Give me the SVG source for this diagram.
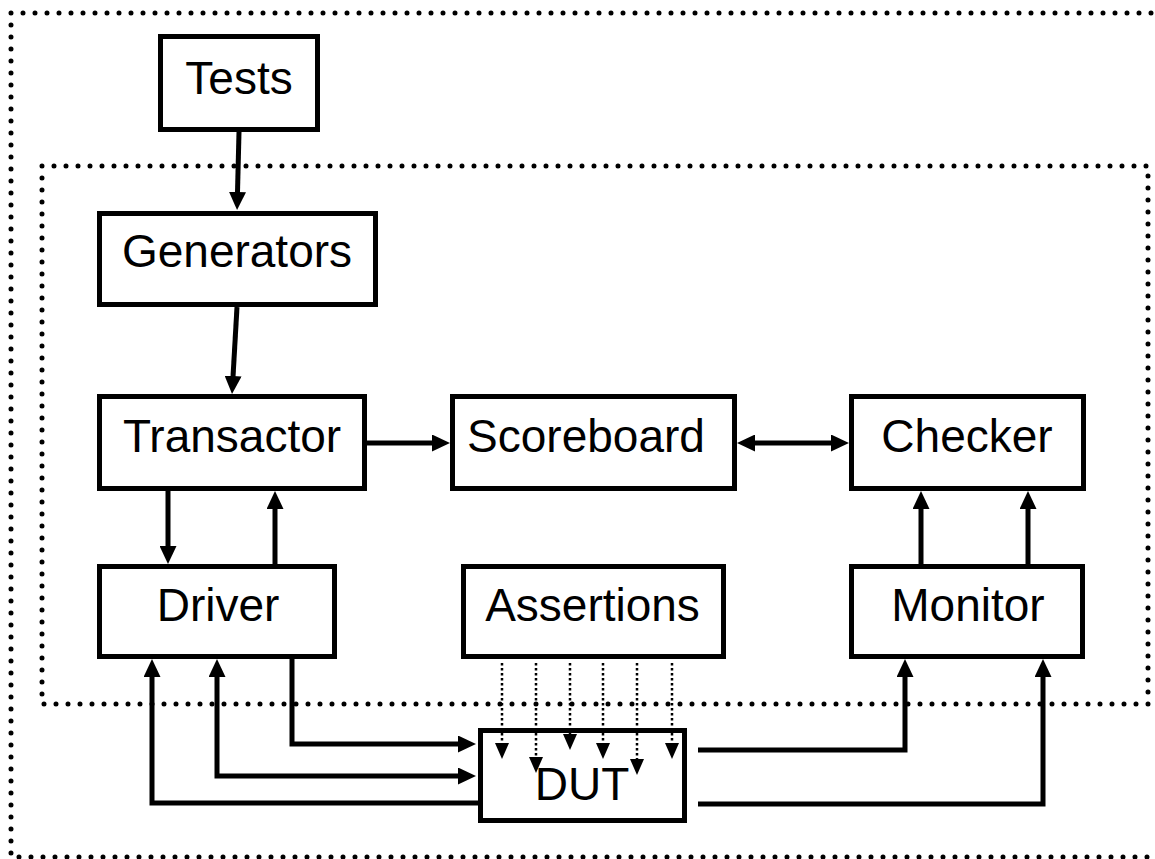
<svg xmlns="http://www.w3.org/2000/svg" width="1155" height="859" viewBox="0 0 1155 859">
<style>
  .box { fill: #fff; stroke: #000; stroke-width: 5; }
  .lbl { font-family: "Liberation Sans", Arial, sans-serif; font-size: 46px; fill: #000; text-anchor: middle; }
  .dots { fill: none; stroke: #000; stroke-width: 5; stroke-dasharray: 0 12; stroke-linecap: round; }
  .conn { fill: none; stroke: #000; stroke-width: 5; stroke-linejoin: miter; }
  .dconn { fill: none; stroke: #000; stroke-width: 2.5; stroke-dasharray: 2.5 2.5; }
</style>
<defs>
  <marker id="ah" viewBox="0 0 18 17" markerWidth="18" markerHeight="17" refX="8" refY="8.5" markerUnits="userSpaceOnUse" orient="auto-start-reverse">
    <path d="M0,0 L18,8.5 L0,17 z" fill="#000"/>
  </marker>
  <marker id="ahs" viewBox="0 0 16 14" markerWidth="16" markerHeight="14" refX="6" refY="7" markerUnits="userSpaceOnUse" orient="auto">
    <path d="M0,0 L16,7 L0,14 z" fill="#000"/>
  </marker>
</defs>
<rect width="1155" height="859" fill="#fff"/>
<g id="frames">
  <path class="dots" d="M1175,13 L11,13 L11,857 L1175,857"/>
  <rect class="dots" x="42" y="166" width="1106" height="538"/>
</g>
<g id="connectors">
  <path class="conn" marker-end="url(#ah)" d="M239,132 L237.3,200"/>
  <path class="conn" marker-end="url(#ah)" d="M237,307 L232.6,384"/>
  <path class="conn" marker-end="url(#ah)" d="M168,491 L168,554"/>
  <path class="conn" marker-end="url(#ah)" d="M275,564 L275,501"/>
  <path class="conn" marker-end="url(#ah)" d="M367,443 L440,443"/>
  <path class="conn" marker-start="url(#ah)" marker-end="url(#ah)" d="M747,443 L839,443"/>
  <path class="conn" marker-end="url(#ah)" d="M921,564 L921,501"/>
  <path class="conn" marker-end="url(#ah)" d="M1028,564 L1028,501"/>
  <path class="conn" marker-end="url(#ah)" d="M292,659 L292,744 L466,744"/>
  <path class="conn" marker-start="url(#ah)" marker-end="url(#ah)" d="M466,776 L217,776 L217,669"/>
  <path class="conn" marker-end="url(#ah)" d="M478,803 L152,803 L152,669"/>
  <path class="conn" marker-end="url(#ah)" d="M698,750 L905,750 L905,669"/>
  <path class="conn" marker-end="url(#ah)" d="M698,804 L1043,804 L1043,669"/>
  <path class="dconn" marker-end="url(#ahs)" d="M502,663 L502,749"/>
  <path class="dconn" marker-end="url(#ahs)" d="M536,663 L536,763"/>
  <path class="dconn" marker-end="url(#ahs)" d="M570,663 L570,740"/>
  <path class="dconn" marker-end="url(#ahs)" d="M603,663 L603,749"/>
  <path class="dconn" marker-end="url(#ahs)" d="M637,663 L637,765"/>
  <path class="dconn" marker-end="url(#ahs)" d="M672,663 L672,749"/>
</g>
<g id="tests"><rect class="box" x="160.5" y="36.5" width="157" height="93"/><text class="lbl" x="239" y="94">Tests</text></g>
<g id="generators"><rect class="box" x="99.5" y="213.5" width="276" height="91"/><text class="lbl" x="237" y="267">Generators</text></g>
<g id="transactor"><rect class="box" x="99.5" y="396.5" width="265" height="92"/><text class="lbl" x="232" y="452">Transactor</text></g>
<g id="scoreboard"><rect class="box" x="452.5" y="396.5" width="282" height="92"/><text class="lbl" x="586" y="452">Scoreboard</text></g>
<g id="checker"><rect class="box" x="851.5" y="396.5" width="232" height="92"/><text class="lbl" x="967" y="452">Checker</text></g>
<g id="driver"><rect class="box" x="99.5" y="566.5" width="235" height="90"/><text class="lbl" x="218" y="621">Driver</text></g>
<g id="assertions"><rect class="box" x="463.5" y="566.5" width="260" height="90"/><text class="lbl" x="592.5" y="621">Assertions</text></g>
<g id="monitor"><rect class="box" x="851.5" y="566.5" width="231" height="90"/><text class="lbl" x="968" y="621">Monitor</text></g>
<g id="dut"><rect class="box" x="480.5" y="730.5" width="204" height="90" fill-opacity="0"/><text class="lbl" x="582" y="800">DUT</text></g>
</svg>
